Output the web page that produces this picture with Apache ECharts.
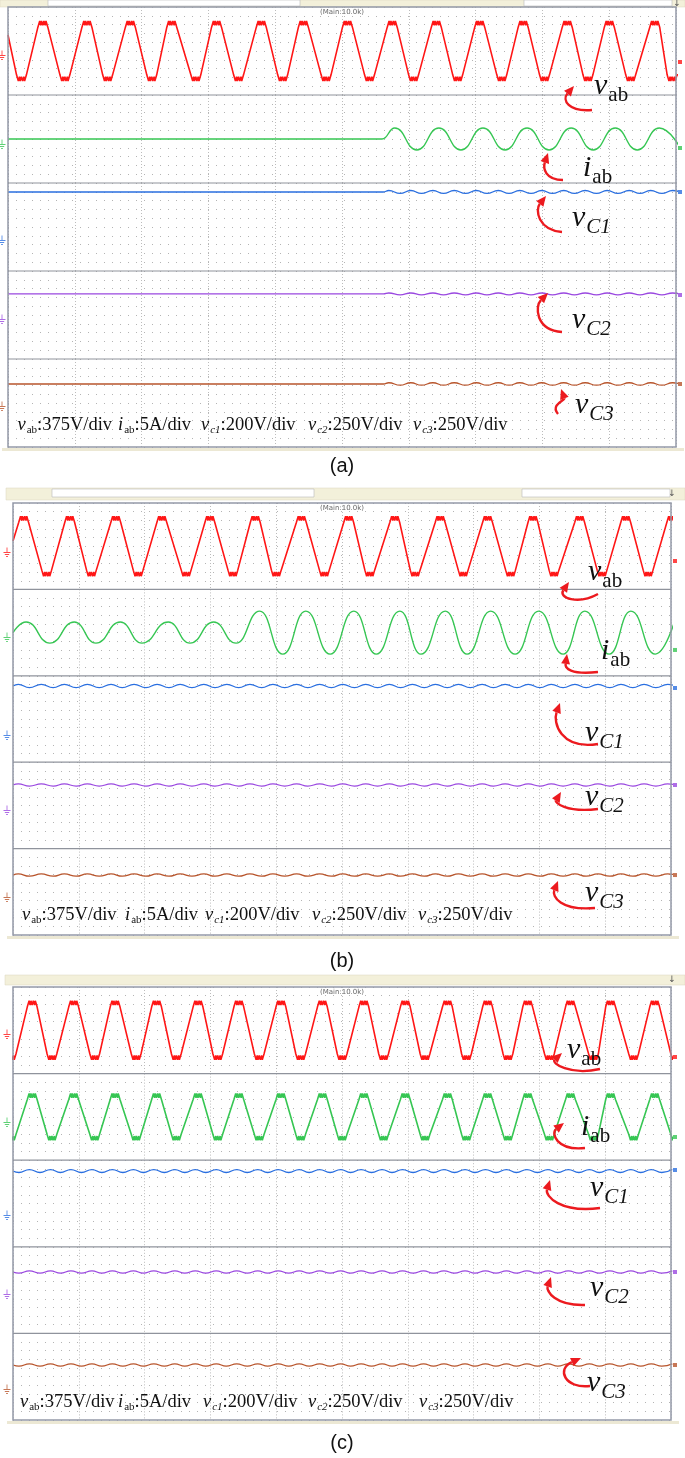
<!DOCTYPE html>
<html>
<head>
<meta charset="utf-8">
<script src="https://cdn.jsdelivr.net/npm/echarts@6/dist/echarts.min.js"></script>
<style>
  html, body { margin: 0; background: #fff; }
  #main { width: 685px; height: 1458px; }
</style>
</head>
<body>
<div id="main"></div>
<script>
// time axis is in scope divisions (0..10), values in strip divisions (-5..5)

// ---- (a) ----
const vabPeaksA = [0.53, 1.19, 1.84, 2.46, 3.13, 3.80, 4.43, 5.09, 5.76, 6.42, 7.07, 7.72, 8.38, 9.01, 9.69];
const vabTroughsA = [0.21, 0.86, 1.50, 2.16, 2.82, 3.46, 4.12, 4.77, 5.42, 6.08, 6.74, 7.40, 8.04, 8.69, 9.33, 9.95];
const vabStartA = 1.82;
const vabAmpA = 3.41;
const iabOnsetA = 5.60;
const iabPeaksA = [5.79, 6.45, 7.11, 7.77, 8.43, 9.09, 9.75];
const iabTroughsA = [6.12, 6.78, 7.44, 8.10, 8.76, 9.42, 10.08];
const iabAmpA = 1.25;
const rippleOnsetA = 5.62;
const ripplePeaksA = [5.70, 6.03, 6.36, 6.68, 7.01, 7.34, 7.66, 7.99, 8.32, 8.64, 8.97, 9.30, 9.62, 9.95];
const rippleTroughsA = [5.87, 6.19, 6.52, 6.85, 7.17, 7.50, 7.83, 8.15, 8.48, 8.81, 9.13, 9.46, 9.79, 10.11];
const capLevelsA = [3.98, 2.39, 2.16];
const rippleAmpsA = [0.17, 0.11, 0.14];
const groundA = [-0.23, -0.34, -1.25, -0.23, -0.11];
const endMarkA = [-1.25, -1.02, 3.98, 2.27, 2.16];

// ---- (b) ----
const vabPeaksB = [0.17, 0.87, 1.57, 2.27, 3.00, 3.69, 4.39, 5.11, 5.81, 6.50, 7.22, 7.91, 8.62, 9.32, 10.02];
const vabTroughsB = [0.52, 1.20, 1.91, 2.64, 3.35, 4.01, 4.74, 5.43, 6.12, 6.85, 7.57, 8.23, 8.96, 9.66];
const vabStartB = 0.6;
const vabAmpB = 3.47;
const iabPeaksB = [0.20, 0.93, 1.63, 2.36, 3.05, 3.75, 4.45, 5.18, 5.88, 6.57, 7.26, 7.99, 8.69, 9.39, 10.10];
const iabPeakAmpsB = [1.22, 1.22, 1.22, 1.22, 1.22, 2.49, 2.49, 2.49, 2.49, 2.49, 2.49, 2.49, 2.49, 2.49, 2.49];
const iabTroughsB = [0.56, 1.26, 1.96, 2.69, 3.39, 4.10, 4.82, 5.52, 6.20, 6.90, 7.63, 8.36, 9.06, 9.76];
const iabTroughAmpsB = [1.22, 1.22, 1.22, 1.22, 1.22, 2.49, 2.49, 2.49, 2.49, 2.49, 2.49, 2.49, 2.49, 2.49];
const ripplePeaksB = [0.08, 0.43, 0.78, 1.13, 1.49, 1.84, 2.19, 2.54, 2.90, 3.25, 3.60, 3.95, 4.31, 4.66, 5.01,
  5.36, 5.72, 6.07, 6.42, 6.77, 7.13, 7.48, 7.83, 8.18, 8.54, 8.89, 9.24, 9.59, 9.95];
const rippleTroughsB = [0.25, 0.61, 0.96, 1.31, 1.66, 2.02, 2.37, 2.72, 3.07, 3.43, 3.78, 4.13, 4.48, 4.84,
  5.19, 5.54, 5.89, 6.25, 6.60, 6.95, 7.30, 7.66, 8.01, 8.36, 8.71, 9.07, 9.42, 9.77, 10.12];
const capLevelsB = [3.82, 2.36, 1.94];
const rippleAmpsB = [0.19, 0.13, 0.13];
const groundB = [-0.44, -0.28, -1.62, -0.30, -0.37];
const endMarkB = [-1.71, -2.01, 3.59, 2.36, 1.94];

// ---- (c) ----
const vabPeaksC = [0.30, 0.93, 1.56, 2.19, 2.82, 3.44, 4.08, 4.71, 5.34, 5.97, 6.61, 7.22, 7.83, 8.48, 9.09, 9.76];
const vabTroughsC = [-0.02, 0.60, 1.25, 1.88, 2.49, 3.12, 3.75, 4.38, 5.01, 5.64, 6.27, 6.90, 7.53, 8.16, 8.83, 9.44, 10.08];
const vabAmpC = 3.41;
const iabAmpC = 2.71;
const ripplePeaksC = [0.25, 0.57, 0.88, 1.20, 1.51, 1.83, 2.14, 2.46, 2.77, 3.09, 3.40, 3.72, 4.03, 4.35, 4.66,
  4.98, 5.29, 5.61, 5.92, 6.24, 6.55, 6.87, 7.18, 7.50, 7.81, 8.13, 8.44, 8.76, 9.07, 9.39, 9.70, 10.02];
const rippleTroughsC = [0.09, 0.41, 0.72, 1.04, 1.35, 1.67, 1.98, 2.30, 2.61, 2.93, 3.24, 3.56, 3.87, 4.19, 4.50,
  4.82, 5.13, 5.45, 5.76, 6.08, 6.39, 6.71, 7.02, 7.34, 7.65, 7.97, 8.28, 8.60, 8.91, 9.23, 9.54, 9.86];
const capLevelsC = [3.75, 2.09, 1.35];
const rippleAmpsC = [0.17, 0.13, 0.13];
const groundC = [-0.20, -0.36, -1.10, -0.22, -1.19];
const endMarkC = [-3.08, -2.32, 3.87, 2.09, 1.35];

// ---- texts ----
const traceNames = [['v', 'ab', false], ['i', 'ab', false], ['v', 'C1', true], ['v', 'C2', true], ['v', 'C3', true]];
const scaleNames = [['v', 'ab', false, ':375V/div'], ['i', 'ab', false, ':5A/div'], ['v', 'c1', true, ':200V/div'],
  ['v', 'c2', true, ':250V/div'], ['v', 'c3', true, ':250V/div']];
const captions = ['(a)', '(b)', '(c)'];
const headerText = '(Main:10.0k)';

const colors = ['#ff1616', '#36c653', '#2a6fe0', '#9a48e0', '#b8552c'];
const RED = '#ec1a1f';
const SERIF = '"Liberation Serif", "Times New Roman", serif';

// layout of the three scope shots
const panels = [
  {
    L: 8, R: 676, T: 7, B: 447, bar: [0, 0, 685, 7], boxes: [[48, 0, 252, 6], [524, 0, 148, 6]], cap: 466, scaleY: 425,
    scaleX: [9.5, 110, 193, 300, 405],
    labels: [[594, 86], [583, 168], [572, 218], [572, 320], [575, 405]],
    arrows: [[592, 110, 568, 112, 562, 100, 574, 86], [563, 180, 545, 180, 543, 168, 548, 153],
      [562, 232, 538, 230, 535, 210, 546, 196], [562, 332, 535, 330, 535, 306, 548, 293],
      [558, 414, 550, 405, 565, 400, 561, 389]]
  },
  {
    L: 13, R: 671, T: 503, B: 935, bar: [6, 488, 679, 12], boxes: [[52, 489, 262, 8], [522, 489, 148, 8]], cap: 961, scaleY: 915,
    scaleX: [9, 112, 192, 299, 405],
    labels: [[588, 572], [601, 651], [585, 733], [585, 797], [585, 893]],
    arrows: [[598, 594, 578, 605, 558, 598, 569, 582], [598, 672, 570, 675, 565, 668, 567, 654],
      [598, 744, 560, 750, 553, 722, 560, 703], [598, 809, 565, 813, 555, 802, 561, 792],
      [595, 908, 560, 911, 552, 896, 558, 881]]
  },
  {
    L: 13, R: 671, T: 987, B: 1420, bar: [5, 975, 680, 10], boxes: [], cap: 1443, scaleY: 1402,
    scaleX: [7, 105, 190, 295, 406],
    labels: [[567, 1050], [581, 1127], [590, 1188], [590, 1288], [587, 1383]],
    arrows: [[600, 1069, 570, 1076, 551, 1063, 562, 1053], [585, 1148, 556, 1151, 551, 1133, 564, 1123],
      [600, 1208, 560, 1213, 545, 1196, 550, 1180], [585, 1305, 555, 1306, 546, 1291, 551, 1277],
      [590, 1386, 565, 1389, 556, 1369, 581, 1358]]
  }
];

// ---- builders ----
const W = 0.055;
const plateau = [[-1.5, 0.7], [-1.2, 0.7], [-1, 0], [-0.7, 0], [-0.7, 0.5], [-0.5, 0.5], [-0.5, 0], [-0.15, 0],
  [-0.15, 0.5], [0.15, 0.5], [0.15, 0], [0.5, 0], [0.5, 0.5], [0.7, 0.5], [0.7, 0], [1, 0], [1.2, 0.7], [1.5, 0.7]];

function events(peaks, troughs, pa, ta) {
  const amp = (a, i) => Array.isArray(a) ? a[i] : a;
  return peaks.map((t, i) => [t, amp(pa, i)])
    .concat(troughs.map((t, i) => [t, -amp(ta, i)]))
    .sort((a, b) => a[0] - b[0]);
}
function trapezoid(peaks, troughs, amp, startVal) {
  const pts = startVal == null ? [] : [[0, startVal]];
  events(peaks, troughs, amp, amp).forEach(([t, v]) => {
    const s = Math.sign(v);
    plateau.forEach(([k, d]) => pts.push([t + k * W, v - s * d]));
  });
  return pts;
}
function wave(start, peaks, troughs, pa, ta) {
  return start.concat(events(peaks, troughs, pa, ta));
}
function ripple(level, onset, peaks, troughs, amp) {
  const head = onset > 0 ? [[0, level], [onset, level]] : [[0, level]];
  return head.concat(events(peaks, troughs, amp, amp).map(([t, v]) => [t, level + v]));
}

const traces = [
  [
    trapezoid(vabPeaksA, vabTroughsA, vabAmpA, vabStartA),
    wave([[0, 0], [iabOnsetA, 0]], iabPeaksA, iabTroughsA, iabAmpA, iabAmpA),
    ripple(capLevelsA[0], rippleOnsetA, ripplePeaksA, rippleTroughsA, rippleAmpsA[0]),
    ripple(capLevelsA[1], rippleOnsetA, ripplePeaksA, rippleTroughsA, rippleAmpsA[1]),
    ripple(capLevelsA[2], rippleOnsetA, ripplePeaksA, rippleTroughsA, rippleAmpsA[2])
  ],
  [
    trapezoid(vabPeaksB, vabTroughsB, vabAmpB, vabStartB),
    wave([[0, 0]], iabPeaksB, iabTroughsB, iabPeakAmpsB, iabTroughAmpsB),
    ripple(capLevelsB[0], 0, ripplePeaksB, rippleTroughsB, rippleAmpsB[0]),
    ripple(capLevelsB[1], 0, ripplePeaksB, rippleTroughsB, rippleAmpsB[1]),
    ripple(capLevelsB[2], 0, ripplePeaksB, rippleTroughsB, rippleAmpsB[2])
  ],
  [
    trapezoid(vabPeaksC, vabTroughsC, vabAmpC, null),
    trapezoid(vabPeaksC, vabTroughsC, iabAmpC, null),
    ripple(capLevelsC[0], 0, ripplePeaksC, rippleTroughsC, rippleAmpsC[0]),
    ripple(capLevelsC[1], 0, ripplePeaksC, rippleTroughsC, rippleAmpsC[1]),
    ripple(capLevelsC[2], 0, ripplePeaksC, rippleTroughsC, rippleAmpsC[2])
  ]
];
const grounds = [groundA, groundB, groundC];
const endMarks = [endMarkA, endMarkB, endMarkC];

// ---- text helpers ----
const ctx = document.createElement('canvas').getContext('2d');
function tw(font, s) { ctx.font = font; return ctx.measureText(s).width; }
function symbolText(x, y, main, sub, subItalic, big, small, dy, out) {
  const f1 = 'italic ' + big + 'px ' + SERIF;
  const f2 = (subItalic ? 'italic ' : '') + small + 'px ' + SERIF;
  const w1 = tw(f1, main);
  out.push({ type: 'text', x: x, y: y, z: 50, style: { text: main, font: f1, fill: '#111', verticalAlign: 'middle' } });
  out.push({ type: 'text', x: x + w1 + 1, y: y + dy, z: 50, style: { text: sub, font: f2, fill: '#111', verticalAlign: 'middle' } });
  return w1 + 1 + tw(f2, sub);
}
function arrow(c, out) {
  const [x1, y1, a, b, c2, d, x2, y2] = c;
  const ang = Math.atan2(y2 - d, x2 - c2);
  const len = 10, half = 4.5;
  const bx = x2 - len * Math.cos(ang), by = y2 - len * Math.sin(ang);
  const px = -Math.sin(ang) * half, py = Math.cos(ang) * half;
  out.push({ type: 'bezierCurve', z: 49, shape: { x1: x1, y1: y1, cpx1: a, cpy1: b, cpx2: c2, cpy2: d, x2: bx, y2: by },
    style: { stroke: RED, lineWidth: 2.4, fill: 'none' } });
  out.push({ type: 'polygon', z: 49, shape: { points: [[x2, y2], [bx + px, by + py], [bx - px, by - py]] }, style: { fill: RED } });
}

// ---- build option ----
const grid = [], xAxis = [], yAxis = [], series = [], graphic = [];
const groundPath = 'path://M4,0 L4,5 M0,5 L8,5 M1.5,7 L6.5,7 M3,9 L5,9';

panels.forEach((p, pi) => {
  const h = (p.B - p.T) / 5;
  // toolbar strip
  graphic.push({ type: 'rect', z: 1, shape: { x: p.bar[0], y: p.bar[1], width: p.bar[2], height: p.bar[3] },
    style: { fill: '#f3f0da', stroke: '#d8d4bc', lineWidth: 0.5 } });
  p.boxes.forEach(bx => graphic.push({ type: 'rect', z: 2, shape: { x: bx[0], y: bx[1], width: bx[2], height: bx[3] },
    style: { fill: '#fff', stroke: '#b8b8b8', lineWidth: 0.6 } }));
  graphic.push({ type: 'text', x: p.R + 1, y: p.bar[1] + p.bar[3] / 2, z: 3,
    style: { text: '↓', font: '9px "DejaVu Sans"', fill: '#555', align: 'center', verticalAlign: 'middle' } });
  // bottom strip
  graphic.push({ type: 'rect', z: 1, shape: { x: p.L - 6, y: p.B + 1, width: p.R - p.L + 14, height: 3 },
    style: { fill: '#ece8d4' } });
  // frame + separators
  graphic.push({ type: 'rect', z: 20, shape: { x: p.L, y: p.T, width: p.R - p.L, height: p.B - p.T },
    style: { fill: 'none', stroke: '#9499a8', lineWidth: 1.5 } });
  for (let s = 1; s < 5; s++) {
    graphic.push({ type: 'line', z: 20, shape: { x1: p.L, y1: p.T + s * h, x2: p.R, y2: p.T + s * h },
      style: { stroke: '#8f939c', lineWidth: 1.2 } });
  }
  graphic.push({ type: 'text', x: (p.L + p.R) / 2, y: p.T + 5, z: 21,
    style: { text: headerText, font: '7px "DejaVu Sans"', fill: '#666', align: 'center', verticalAlign: 'middle' } });
  graphic.push({ type: 'text', x: 342, y: p.cap, z: 21,
    style: { text: captions[pi], font: '20px "Liberation Sans"', fill: '#111', align: 'center', verticalAlign: 'middle' } });

  // scale line
  scaleNames.forEach((n, i) => {
    const x0 = p.L + p.scaleX[i];
    const w = symbolText(x0, p.scaleY, n[0], n[1], n[2], 18.5, 11, 5, graphic);
    graphic.push({ type: 'text', x: x0 + w, y: p.scaleY, z: 50,
      style: { text: n[3], font: '18.5px ' + SERIF, fill: '#111', verticalAlign: 'middle' } });
  });
  // trace names + arrows
  traceNames.forEach((n, i) => {
    symbolText(p.labels[i][0], p.labels[i][1], n[0], n[1], n[2], 30, 21, 9, graphic);
    arrow(p.arrows[i], graphic);
  });

  for (let s = 0; s < 5; s++) {
    const idx = grid.length;
    grid.push({ left: p.L, top: p.T + s * h, width: p.R - p.L, height: h });
    xAxis.push({
      gridIndex: idx, type: 'value', min: 0, max: 10, interval: 1,
      axisLine: { show: false }, axisTick: { show: false }, axisLabel: { show: false },
      splitLine: { show: true, lineStyle: { color: '#bcbcbc', width: 1, type: [1, 2] } }
    });
    yAxis.push({
      gridIndex: idx, type: 'value', min: -5, max: 5, interval: 1,
      axisLine: { show: false }, axisTick: { show: false }, axisLabel: { show: false },
      splitLine: { show: true, lineStyle: { color: '#b4b4b4', width: 1, type: [1, 7] } }
    });
    const trap = s === 0 || (pi === 2 && s === 1);
    series.push({
      type: 'line', xAxisIndex: idx, yAxisIndex: idx, data: traces[pi][s],
      showSymbol: false, silent: true, smooth: trap ? false : 0.5, smoothMonotone: 'x',
      lineStyle: { color: colors[s], width: trap ? 1.6 : (s < 2 ? 1.4 : 1.3) }, z: 5
    });
    series.push({
      type: 'scatter', xAxisIndex: idx, yAxisIndex: idx, clip: false, silent: true, z: 6,
      data: [[0, grounds[pi][s]]], symbol: groundPath, symbolSize: [7, 9], symbolOffset: [-6, 2],
      itemStyle: { color: 'transparent', borderColor: colors[s], borderWidth: 1 }
    });
    series.push({
      type: 'scatter', xAxisIndex: idx, yAxisIndex: idx, clip: false, silent: true, z: 6,
      data: [[10, endMarks[pi][s]]], symbol: 'rect', symbolSize: 4, symbolOffset: [4, 0],
      itemStyle: { color: colors[s] }
    });
  }
});

const chart = echarts.init(document.getElementById('main'));
chart.setOption({
  backgroundColor: '#fff',
  animation: false,
  grid: grid,
  xAxis: xAxis,
  yAxis: yAxis,
  series: series,
  graphic: graphic
});
</script>
</body>
</html>
